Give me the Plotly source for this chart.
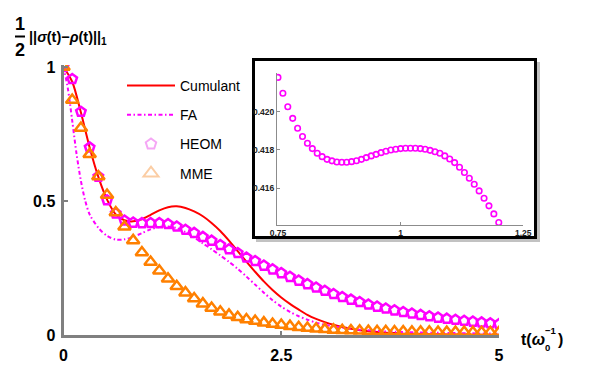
import plotly.graph_objects as go

# ---------------- data ----------------
t = [0.0, 0.1, 0.2, 0.3, 0.4, 0.5, 0.6, 0.7, 0.8, 0.9,
     1.0, 1.1, 1.2, 1.3, 1.4, 1.5, 1.6, 1.7, 1.8, 1.9,
     2.0, 2.1, 2.2, 2.3, 2.4, 2.5, 2.6, 2.7, 2.8, 2.9,
     3.0, 3.1, 3.2, 3.3, 3.4, 3.5, 3.6, 3.7, 3.8, 3.9,
     4.0, 4.1, 4.2, 4.3, 4.4, 4.5, 4.6, 4.7, 4.8, 4.9, 5.0]

cumulant = [1.0, 0.945, 0.83, 0.70, 0.59, 0.505, 0.45, 0.428, 0.424, 0.432,
            0.448, 0.465, 0.477, 0.48, 0.474, 0.461, 0.443, 0.418, 0.388, 0.352,
            0.313, 0.274, 0.236, 0.20, 0.168, 0.14, 0.116, 0.095, 0.075, 0.06,
            0.048, 0.038, 0.03, 0.023, 0.018, 0.014, 0.011, 0.008, 0.007, 0.005,
            0.005, 0.004, 0.003, 0.003, 0.002, 0.002, 0.002, 0.001, 0.001, 0.001, 0.001]

heom = [1.0, 0.955, 0.833, 0.70, 0.591, 0.503, 0.454, 0.427, 0.4195, 0.4174,
        0.418, 0.4175, 0.4142, 0.405, 0.393, 0.381, 0.366, 0.352, 0.336, 0.320,
        0.306, 0.289, 0.276, 0.259, 0.245, 0.231, 0.217, 0.203, 0.190, 0.177,
        0.165, 0.153, 0.142, 0.132, 0.123, 0.114, 0.106, 0.099, 0.092, 0.086,
        0.080, 0.075, 0.070, 0.065, 0.061, 0.057, 0.053, 0.050, 0.047, 0.044, 0.041]

mme = [1.0, 0.877, 0.772, 0.674, 0.591, 0.522, 0.457, 0.404, 0.353, 0.308,
       0.272, 0.24, 0.21, 0.182, 0.158, 0.136, 0.117, 0.101, 0.087, 0.075,
       0.066, 0.058, 0.052, 0.046, 0.041, 0.037, 0.033, 0.029, 0.026, 0.023,
       0.021, 0.019, 0.018, 0.017, 0.016, 0.015, 0.014, 0.014, 0.013, 0.013,
       0.012, 0.012, 0.012, 0.011, 0.011, 0.011, 0.011, 0.010, 0.010, 0.010, 0.010]

t_fa = [0.0, 0.05, 0.1, 0.15, 0.2, 0.25, 0.3, 0.4, 0.5, 0.6, 0.7, 0.8, 0.9,
        1.0, 1.1, 1.2, 1.3, 1.4, 1.5, 1.6, 1.7, 1.8, 1.9,
        2.0, 2.1, 2.2, 2.3, 2.4, 2.5, 2.6, 2.7, 2.8, 2.9,
        3.0, 3.2, 3.4, 3.6, 3.8, 4.0, 4.5, 5.0]
fa = [1.0, 0.92, 0.80, 0.675, 0.575, 0.50, 0.45, 0.40, 0.37, 0.356, 0.357, 0.366, 0.38,
      0.394, 0.403, 0.405, 0.399, 0.384, 0.364, 0.342, 0.32, 0.297, 0.273,
      0.247, 0.218, 0.188, 0.158, 0.13, 0.106, 0.086, 0.07, 0.057, 0.046,
      0.038, 0.027, 0.02, 0.015, 0.012, 0.01, 0.007, 0.005]

t_inset = [0.75, 0.76, 0.77, 0.78, 0.79, 0.80, 0.81, 0.82, 0.83, 0.84,
           0.85, 0.86, 0.87, 0.88, 0.89, 0.90, 0.91, 0.92, 0.93, 0.94,
           0.95, 0.96, 0.97, 0.98, 0.99, 1.00, 1.01, 1.02, 1.03, 1.04,
           1.05, 1.06, 1.07, 1.08, 1.09, 1.10, 1.11, 1.12, 1.13, 1.14,
           1.15, 1.16, 1.17, 1.18, 1.19, 1.20]
heom_inset = [0.42179, 0.42096, 0.42026, 0.41965, 0.41913, 0.41870, 0.41835, 0.41807, 0.41783, 0.41765,
              0.41751, 0.41743, 0.41737, 0.41736, 0.41736, 0.41739, 0.41744, 0.41751, 0.41760, 0.41769,
              0.41777, 0.41786, 0.41793, 0.41800, 0.41804, 0.41807, 0.41809, 0.41809, 0.41809, 0.41807,
              0.41804, 0.41798, 0.41791, 0.41783, 0.41769, 0.41753, 0.41734, 0.41710, 0.41682, 0.41652,
              0.41621, 0.41586, 0.41548, 0.41508, 0.41466, 0.41421]

main_xticks = [0, 2.5, 5]
main_xticklabels = ["0", "2.5", "5"]
main_yticks = [0, 0.5, 1]
main_yticklabels = ["0", "0.5", "1"]
inset_xticks = [0.75, 1.0, 1.25]
inset_xticklabels = ["0.75", "1", "1.25"]
inset_yticks = [0.416, 0.418, 0.420]
inset_yticklabels = ["0.416", "0.418", "0.420"]

# ---------------- layout helpers ----------------
W, H = 598, 377
FONT = "Liberation Sans, Arial, sans-serif"


def px(x):
    return x / W


def py(y):
    return 1 - y / H


RED = "#FF0000"
MAG = "#FF00FF"
ORA = "#FF8000"
AXC = "#808080"

fig = go.Figure()

# main curves
fig.add_trace(go.Scatter(x=t, y=cumulant, mode="lines", name="Cumulant",
                         line=dict(color=RED, width=2, shape="spline", smoothing=0.8),
                         legendgroup="a", xaxis="x", yaxis="y"))
fig.add_trace(go.Scatter(x=t_fa, y=fa, mode="lines", name="FA",
                         line=dict(color=MAG, width=2, dash="4px,2.5px,1.5px,2.5px",
                                   shape="spline", smoothing=0.8),
                         legendgroup="b", xaxis="x", yaxis="y"))
fig.add_trace(go.Scatter(x=t, y=heom, mode="markers", name="HEOM", showlegend=False,
                         marker=dict(symbol="pentagon-open", size=10, color=MAG,
                                     line=dict(color=MAG, width=2.5)),
                         xaxis="x", yaxis="y"))
fig.add_trace(go.Scatter(x=t, y=mme, mode="markers", name="MME", showlegend=False,
                         marker=dict(symbol="triangle-up-open", size=11, color=ORA,
                                     line=dict(color=ORA, width=2.5)),
                         xaxis="x", yaxis="y"))
# legend-only entries (lighter symbols as in reference legend)
fig.add_trace(go.Scatter(x=[None], y=[None], mode="markers", name="HEOM",
                         marker=dict(symbol="pentagon-open", size=11, color="#F5A6F5",
                                     line=dict(color="#F5A6F5", width=2)),
                         legendgroup="c", xaxis="x", yaxis="y"))
fig.add_trace(go.Scatter(x=[None], y=[None], mode="markers", name="MME",
                         marker=dict(symbol="triangle-up-open", size=13, color="#FBCDA4",
                                     line=dict(color="#FBCDA4", width=2)),
                         legendgroup="d", xaxis="x", yaxis="y"))

# inset
fig.add_trace(go.Scatter(x=t_inset, y=heom_inset, mode="markers", showlegend=False,
                         marker=dict(symbol="circle-open", size=5.5, color=MAG,
                                     line=dict(color=MAG, width=1.6)),
                         xaxis="x2", yaxis="y2"))

bold16 = dict(family=FONT, size=16, color="black", weight="bold")
bold9 = dict(family=FONT, size=8.5, color="#222222", weight="bold")

common = dict(showgrid=False, zeroline=False, automargin=False, showline=True)

fig.update_layout(
    width=W, height=H,
    margin=dict(l=0, r=0, t=0, b=0, autoexpand=False),
    paper_bgcolor="white", plot_bgcolor="rgba(0,0,0,0)",
    font=dict(family=FONT, size=14, color="black"),
    xaxis=dict(domain=[px(63.5), px(499)], range=[0, 5], anchor="y",
               linecolor=AXC, linewidth=3,
               ticks="inside", ticklen=4, tickwidth=1.5, tickcolor=AXC,
               tickvals=main_xticks, ticktext=main_xticklabels, tickfont=bold16,
               ticklabelstandoff=4, **common),
    yaxis=dict(domain=[py(335), py(65)], range=[0, 1.0075], anchor="x",
               linecolor=AXC, linewidth=3,
               ticks="inside", ticklen=4, tickwidth=1.5, tickcolor=AXC,
               tickvals=main_yticks, ticktext=main_yticklabels, tickfont=bold16,
               ticklabelstandoff=2, **common),
    xaxis2=dict(domain=[px(277), px(523.3)], range=[0.748, 1.25], anchor="y2",
                linecolor="#8c8c8c", linewidth=1,
                ticks="inside", ticklen=3, tickwidth=1, tickcolor="#8c8c8c",
                tickvals=inset_xticks, ticktext=inset_xticklabels, tickfont=bold9,
                ticklabelstandoff=0, **common),
    yaxis2=dict(domain=[py(225), py(73)], range=[0.41408, 0.42202], anchor="x2",
                linecolor="#8c8c8c", linewidth=1,
                ticks="inside", ticklen=3, tickwidth=1, tickcolor="#8c8c8c",
                tickvals=inset_yticks, ticktext=inset_yticklabels, tickfont=bold9,
                ticklabelstandoff=0, **common),
    legend=dict(x=px(122), y=py(70), xanchor="left", yanchor="top",
                bgcolor="rgba(0,0,0,0)", borderwidth=0, traceorder="grouped",
                tracegroupgap=8, font=dict(family=FONT, size=14, color="black"),
                itemwidth=48),
    showlegend=True,
)

# inset frame with shadow
fig.add_shape(type="rect", xref="paper", yref="paper",
              x0=px(256), x1=px(540), y0=py(242), y1=py(62),
              fillcolor="rgba(120,120,120,0.45)", line=dict(width=0), layer="below")
fig.add_shape(type="rect", xref="paper", yref="paper",
              x0=px(253.5), x1=px(535.5), y0=py(237.5), y1=py(59.5),
              fillcolor="white", line=dict(color="black", width=3), layer="below")

# y-axis title: fraction 1/2 ||sigma(t)-rho(t)||_1
fig.add_annotation(xref="paper", yref="paper", x=px(19.5), y=py(24), text="<b>1</b>",
                   showarrow=False, xanchor="center", yanchor="middle",
                   font=dict(family=FONT, size=18, color="black"))
fig.add_shape(type="line", xref="paper", yref="paper",
              x0=px(15), x1=px(25), y0=py(36.5), y1=py(36.5),
              line=dict(color="black", width=2))
fig.add_annotation(xref="paper", yref="paper", x=px(19.5), y=py(50), text="<b>2</b>",
                   showarrow=False, xanchor="center", yanchor="middle",
                   font=dict(family=FONT, size=18, color="black"))
fig.add_annotation(xref="paper", yref="paper", x=px(27), y=py(38),
                   text="<b>||<i>σ</i>(t)−<i>ρ</i>(t)||<sub>1</sub></b>",
                   showarrow=False, xanchor="left", yanchor="middle",
                   font=dict(family=FONT, size=14.5, color="black"))

# x-axis title: t(omega_0^-1)
fig.add_annotation(xref="paper", yref="paper", x=px(519), y=py(339),
                   text="<b>t(<i>ω</i></b>", showarrow=False, xanchor="left", yanchor="middle",
                   font=dict(family=FONT, size=16, color="black"))
fig.add_annotation(xref="paper", yref="paper", x=px(543), y=py(347),
                   text="<b>0</b>", showarrow=False, xanchor="left", yanchor="middle",
                   font=dict(family=FONT, size=9.5, color="black"))
fig.add_annotation(xref="paper", yref="paper", x=px(543), y=py(330.5),
                   text="<b>−1</b>", showarrow=False, xanchor="left", yanchor="middle",
                   font=dict(family=FONT, size=9.5, color="black"))
fig.add_annotation(xref="paper", yref="paper", x=px(556), y=py(339),
                   text="<b>)</b>", showarrow=False, xanchor="left", yanchor="middle",
                   font=dict(family=FONT, size=16, color="black"))

fig.write_html("out.html", config={"displayModeBar": False},
               post_script="document.body.style.margin='0px';document.body.style.padding='0px';")
